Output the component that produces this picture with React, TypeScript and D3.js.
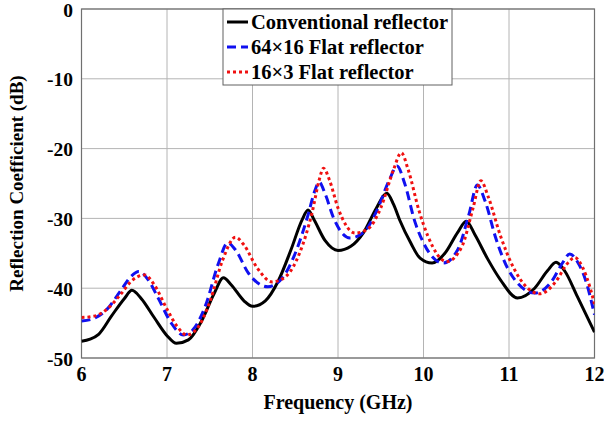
import * as d3 from 'd3';

// frequency (GHz) / reflection coefficient (dB)
const convFreq = [6.0, 6.1, 6.2, 6.35, 6.5, 6.59, 6.7, 6.85, 7.0, 7.11, 7.25, 7.4, 7.55, 7.66, 7.75, 7.9, 8.0, 8.15, 8.3, 8.45, 8.58, 8.65, 8.72, 8.85, 9.0, 9.15, 9.3, 9.45, 9.57, 9.65, 9.72, 9.85, 9.96, 10.1, 10.25, 10.4, 10.5, 10.6, 10.75, 10.9, 11.1, 11.3, 11.45, 11.55, 11.65, 11.8, 12.0];
const convDb = [-47.6, -47.3, -46.6, -44.0, -41.5, -40.3, -41.5, -44.2, -46.8, -47.9, -47.4, -44.8, -40.8, -38.5, -39.5, -41.8, -42.6, -41.8, -39.0, -34.5, -30.2, -28.8, -30.2, -33.2, -34.6, -34.0, -32.0, -28.5, -26.4, -28.0, -30.2, -33.5, -35.7, -36.4, -35.0, -32.0, -30.4, -32.3, -35.8, -38.8, -41.4, -40.0, -37.5, -36.3, -37.5, -41.2, -46.3];

const flat64Freq = [6.0, 6.15, 6.3, 6.45, 6.58, 6.67, 6.78, 6.9, 7.05, 7.19, 7.3, 7.45, 7.6, 7.71, 7.8, 7.95, 8.18, 8.35, 8.5, 8.65, 8.73, 8.78, 8.85, 8.95, 9.14, 9.3, 9.45, 9.6, 9.69, 9.78, 9.9, 10.0, 10.23, 10.4, 10.53, 10.63, 10.72, 10.85, 11.0, 11.3, 11.5, 11.62, 11.71, 11.8, 11.9, 12.0];
const flat64Db = [-44.7, -44.3, -43.0, -40.5, -38.3, -37.6, -38.8, -41.5, -45.0, -46.7, -46.0, -42.5, -36.5, -33.5, -34.5, -37.8, -39.8, -38.5, -35.0, -29.5, -26.0, -24.8, -26.5, -30.0, -32.8, -32.0, -29.0, -24.5, -22.5, -25.0, -30.5, -33.5, -36.4, -34.5, -29.5, -25.2, -27.5, -33.0, -37.5, -40.7, -39.0, -36.5, -35.1, -36.2, -39.0, -43.8];

const flat16Freq = [6.0, 6.15, 6.3, 6.45, 6.6, 6.74, 6.85, 7.0, 7.12, 7.23, 7.35, 7.5, 7.65, 7.8, 7.9, 8.05, 8.23, 8.4, 8.55, 8.7, 8.78, 8.83, 8.9, 9.0, 9.2, 9.35, 9.5, 9.65, 9.74, 9.82, 9.95, 10.05, 10.27, 10.45, 10.58, 10.67, 10.76, 10.9, 11.05, 11.36, 11.55, 11.68, 11.77, 11.86, 11.95, 12.0];
const flat16Db = [-44.2, -44.0, -43.0, -41.0, -38.8, -38.1, -39.5, -43.0, -45.5, -46.7, -45.8, -42.0, -36.0, -32.7, -33.8, -37.0, -39.1, -38.2, -35.0, -29.0, -24.5, -22.8, -24.5, -28.5, -32.1, -31.5, -28.5, -23.0, -20.6, -23.0, -29.0, -32.5, -36.2, -34.0, -28.5, -24.6, -27.0, -32.5, -37.0, -40.8, -39.0, -36.5, -35.6, -37.0, -40.0, -42.3];

const xTicks = [6, 7, 8, 9, 10, 11, 12];
const yTicks = [0, -10, -20, -30, -40, -50];
const seriesNames = ['Conventional reflector', '64\u00d716 Flat reflector', '16\u00d73 Flat reflector'];

const W = 604;
const H = 421;
const m = { left: 81.5, right: 594.5, top: 9, bottom: 358 };
const font = '"Liberation Serif", "Times New Roman", serif';

export default function App() {
  const x = d3.scaleLinear().domain([6, 12]).range([m.left, m.right]);
  const y = d3.scaleLinear().domain([-50, 0]).range([m.bottom, m.top]);

  const line = d3.line<[number, number]>()
    .x(d => x(d[0]))
    .y(d => y(d[1]))
    .curve(d3.curveMonotoneX);

  const zip = (a: number[], b: number[]) => a.map((v, i) => [v, b[i]] as [number, number]);

  const series = [
    { pts: zip(convFreq, convDb), color: '#000000', dash: undefined },
    { pts: zip(flat64Freq, flat64Db), color: '#1010f0', dash: '9,5' },
    { pts: zip(flat16Freq, flat16Db), color: '#f01010', dash: '3,3' },
  ];

  return (
    <svg width={W} height={H} style={{ position: 'absolute', left: 0, top: 0, background: '#fff' }}
      fontFamily={font} fontWeight="bold">
      <defs>
        <clipPath id="plot">
          <rect x={m.left} y={m.top} width={m.right - m.left} height={m.bottom - m.top} />
        </clipPath>
      </defs>

      {/* grid */}
      {xTicks.map(t => (
        <line key={'gx' + t} x1={x(t)} x2={x(t)} y1={m.top} y2={m.bottom} stroke="#b4b4b4" strokeWidth={1} />
      ))}
      {yTicks.map(t => (
        <line key={'gy' + t} x1={m.left} x2={m.right} y1={y(t)} y2={y(t)} stroke="#b4b4b4" strokeWidth={1} />
      ))}

      {/* box */}
      <rect x={m.left} y={m.top} width={m.right - m.left} height={m.bottom - m.top}
        fill="none" stroke="#707070" strokeWidth={1.2} />

      {/* curves */}
      <g clipPath="url(#plot)">
        {series.map((s, i) => (
          <path key={i} d={line(s.pts) || ''} fill="none" stroke={s.color}
            strokeWidth={3} strokeDasharray={s.dash} />
        ))}
      </g>

      {/* tick labels */}
      {xTicks.map(t => (
        <text key={'tx' + t} x={x(t)} y={381} textAnchor="middle" fontSize={20}>{t}</text>
      ))}
      {yTicks.map(t => (
        <text key={'ty' + t} x={73} y={y(t) + 7.5} textAnchor="end" fontSize={19.5}>{t}</text>
      ))}

      {/* axis labels */}
      <text x={(m.left + m.right) / 2} y={409} textAnchor="middle" fontSize={20}>Frequency (GHz)</text>
      <text transform={`translate(23,${(m.top + m.bottom) / 2}) rotate(-90)`} textAnchor="middle" fontSize={19}>
        Reflection Coefficient (dB)
      </text>

      {/* legend */}
      <rect x={223} y={m.top} width={229} height={76} fill="#fff" stroke="#606060" strokeWidth={1} />
      {seriesNames.map((name, i) => {
        const ly = 22 + i * 25;
        return (
          <g key={name}>
            <line x1={227} x2={248} y1={ly} y2={ly} stroke={series[i].color} strokeWidth={3}
              strokeDasharray={series[i].dash} />
            <text x={251} y={ly + 6.5} fontSize={20.5}>{name}</text>
          </g>
        );
      })}
    </svg>
  );
}
